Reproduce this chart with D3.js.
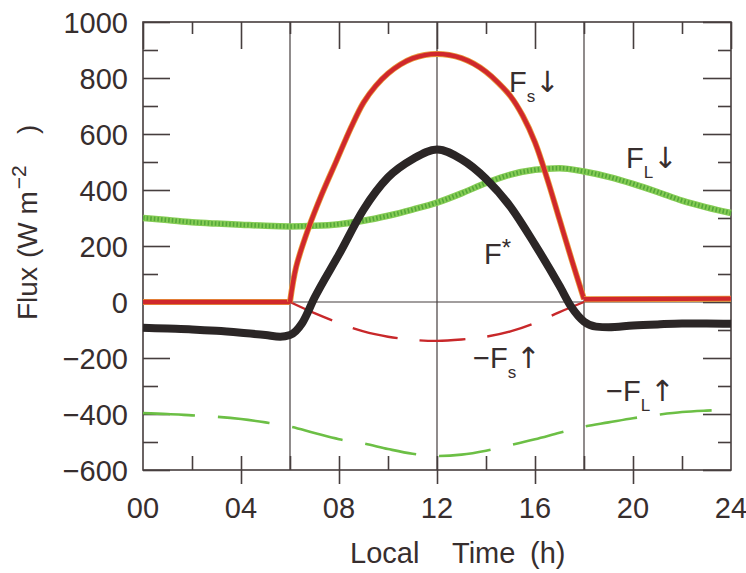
<!DOCTYPE html>
<html>
<head>
<meta charset="utf-8">
<script src="https://cdn.jsdelivr.net/npm/d3@7"></script>
<style>
  body { margin: 0; background: #fff; }
  text { font-family: "Liberation Sans", Arial, Helvetica, sans-serif; fill: #372e2e; }
</style>
</head>
<body>
<svg id="chart" width="746" height="573"></svg>
<script>
// --- data (hour of day, W m-2) ---
var fsDown = [[0, 0], [6, 0], [6.25, 125], [6.75, 262], [7.3, 385], [7.9, 505], [8.5, 625], [9, 712],
  [9.5, 772], [10, 816], [10.5, 848], [11, 870], [11.5, 882], [12, 886], [12.5, 882], [13, 871],
  [13.5, 851], [14, 822], [14.5, 783], [15, 735], [15.5, 665], [16, 570], [16.5, 440], [17, 295],
  [17.5, 150], [18, 10], [24, 12]];
var flDown = [[0, 300], [1, 293], [2, 285], [3, 280], [4, 276], [5, 272], [6, 270], [7, 272], [8, 278],
  [9, 290], [10, 308], [11, 330], [12, 355], [13, 388], [14, 425], [15, 455], [16, 472], [17, 478],
  [18, 466], [19, 447], [20, 422], [21, 393], [22, 362], [23, 338], [24, 318]];
var fNet = [[0, -92], [1, -95], [2, -98], [3, -103], [4, -110], [5, -118], [5.6, -124], [6, -118],
  [6.5, -75], [7, 15], [8, 170], [9, 330], [10, 445], [11, 510], [12, 545], [13, 510], [14, 440],
  [15, 340], [16, 205], [17, 58], [17.5, -20], [18, -70], [18.5, -88], [19, -90], [20, -84],
  [21, -80], [22, -77], [23, -77], [24, -78]];
var fsUp = [[6, 0], [7, -40], [8, -75], [9, -105], [10, -124], [11, -135], [12, -139], [13, -134],
  [14, -124], [15, -105], [16, -75], [17, -36], [18, 0]];
var flUp = [[0, -397], [1, -400], [2, -405], [3, -410], [4, -418], [5, -430], [6, -445], [7, -468],
  [8, -490], [9, -505], [10, -525], [11, -542], [12, -550], [13, -545], [14, -531], [15, -511],
  [16, -490], [17, -467], [18, -445], [19, -430], [20, -415], [21, -403], [22, -393], [23, -388], [24, -385]];

var xMajor = [0, 4, 8, 12, 16, 20, 24];
var xMinor = [2, 6, 10, 14, 18, 22];
var xLabels = ["00", "04", "08", "12", "16", "20", "24"];
var yMajor = [1000, 800, 600, 400, 200, 0, -200, -400, -600];
var yMinor = [900, 700, 500, 300, 100, -100, -300, -500];
var dayLines = [6, 12, 18];

var plotL = 143, plotR = 731, plotT = 22, plotB = 470;
var frameColor = "#463e3e";

var svg = d3.select("#chart");
var x = d3.scaleLinear().domain([0, 24]).range([plotL, plotR]);
var y = d3.scaleLinear().domain([-600, 1000]).range([plotB, plotT]);

// frame
svg.append("rect")
  .attr("x", plotL).attr("y", plotT)
  .attr("width", plotR - plotL).attr("height", plotB - plotT)
  .attr("fill", "none").attr("stroke", frameColor).attr("stroke-width", 1.6);

// zero line and 06/12/18 lines
svg.append("line")
  .attr("x1", plotL).attr("x2", plotR).attr("y1", y(0)).attr("y2", y(0))
  .attr("stroke", frameColor).attr("stroke-width", 1.2);
svg.selectAll("line.day").data(dayLines).enter().append("line")
  .attr("class", "day")
  .attr("x1", x).attr("x2", x).attr("y1", plotT).attr("y2", plotB)
  .attr("stroke", frameColor).attr("stroke-width", 1.2);

function noDomain(g) {
  g.select(".domain").remove();
  g.selectAll(".tick line").attr("stroke", frameColor).attr("stroke-width", 1.6);
}

// left axis: ticks point inward
var leftAxis = svg.append("g").attr("transform", "translate(" + plotL + ",0)")
  .call(d3.axisLeft(y).tickValues(yMajor).tickSize(-27).tickPadding(15)
    .tickFormat(function(d) { return d < 0 ? "\u2212" + (-d) : d; }))
  .call(noDomain);
leftAxis.selectAll("text").style("font-size", "29px").style("font-family", "Liberation Sans")
  .attr("fill", "#372e2e").attr("dy", "0.36em");
svg.append("g").attr("transform", "translate(" + plotL + ",0)")
  .call(d3.axisLeft(y).tickValues(yMinor).tickSize(-15).tickFormat(""))
  .call(noDomain);

// right axis
svg.append("g").attr("transform", "translate(" + plotR + ",0)")
  .call(d3.axisRight(y).tickValues(yMajor).tickSize(-28).tickFormat(""))
  .call(noDomain);
svg.append("g").attr("transform", "translate(" + plotR + ",0)")
  .call(d3.axisRight(y).tickValues(yMinor).tickSize(-13).tickFormat(""))
  .call(noDomain);

// top axis
svg.append("g").attr("transform", "translate(0," + plotT + ")")
  .call(d3.axisTop(x).tickValues(xMajor).tickSize(-27).tickFormat(""))
  .call(noDomain);
svg.append("g").attr("transform", "translate(0," + plotT + ")")
  .call(d3.axisTop(x).tickValues(xMinor).tickSize(-12).tickFormat(""))
  .call(noDomain);

// bottom axis: major ticks cross the frame
svg.append("g").attr("transform", "translate(0," + (plotB + 14) + ")")
  .call(d3.axisBottom(x).tickValues(xMajor.slice(1, -1)).tickSize(-28).tickFormat(""))
  .call(noDomain);
svg.append("g").attr("transform", "translate(0," + plotB + ")")
  .call(d3.axisBottom(x).tickValues(xMinor).tickSize(-14).tickFormat(""))
  .call(noDomain);
svg.selectAll("text.xl").data(xMajor).enter().append("text")
  .attr("class", "xl")
  .attr("x", x).attr("y", 518)
  .attr("text-anchor", "middle")
  .style("font-size", "29px")
  .text(function(d, i) { return xLabels[i]; });

// axis titles (words spread wide, as in the original)
var xt = svg.append("text").attr("y", 563).style("font-size", "29px");
xt.append("tspan").attr("x", 350).text("Local");
xt.append("tspan").attr("x", 452).text("Time");
xt.append("tspan").attr("x", 530).text("(h)");

var yt = svg.append("text")
  .attr("transform", "translate(37,0) rotate(-90)")
  .style("font-size", "28px");
yt.append("tspan").attr("x", -320).text("Flux");
yt.append("tspan").attr("x", -258).text("(W m");
yt.append("tspan").attr("dx", 2).attr("dy", -11).style("font-size", "21px").text("\u22122");
yt.append("tspan").attr("x", -134).attr("dy", 11).text(")");

// curves
var line = d3.line().x(function(d) { return x(d[0]); }).y(function(d) { return y(d[1]); });
var smooth = d3.line().curve(d3.curveMonotoneX)
  .x(function(d) { return x(d[0]); }).y(function(d) { return y(d[1]); });
var round = d3.line().curve(d3.curveCatmullRom.alpha(0.5))
  .x(function(d) { return x(d[0]); }).y(function(d) { return y(d[1]); });

// -FL up (dashed green)
svg.append("path").attr("d", smooth(flUp))
  .attr("fill", "none").attr("stroke", "#6cbf45").attr("stroke-width", 2.6)
  .attr("stroke-dasharray", "52,23");

// -Fs up (dashed red)
svg.append("path").attr("d", round(fsUp))
  .attr("fill", "none").attr("stroke", "#c8282a").attr("stroke-width", 2.4)
  .attr("stroke-dasharray", "46,22");

// FL down (thick dotted green)
svg.append("path").attr("d", smooth(flDown))
  .attr("fill", "none").attr("stroke", "#86cc55").attr("stroke-width", 6.5);
svg.append("path").attr("d", smooth(flDown))
  .attr("fill", "none").attr("stroke", "#55a93a").attr("stroke-width", 4.5)
  .attr("stroke-dasharray", "1.6,2");

// Fs down: straight at night, rounded during the day
var night1 = fsDown.filter(function(d) { return d[0] <= 6; });
var day = fsDown.filter(function(d) { return d[0] >= 6 && d[0] <= 18; });
var night2 = fsDown.filter(function(d) { return d[0] >= 18; });
[[night1, line], [day, round], [night2, line]].forEach(function(p) {
  svg.append("path").attr("d", p[1](p[0]))
    .attr("fill", "none").attr("stroke", "#e89a3a").attr("stroke-width", 6)
    .attr("stroke-linejoin", "round");
  svg.append("path").attr("d", p[1](p[0]))
    .attr("fill", "none").attr("stroke", "#d0282c").attr("stroke-width", 4.4)
    .attr("stroke-linejoin", "round");
});

// F* net (thick black)
svg.append("path").attr("d", smooth(fNet))
  .attr("fill", "none").attr("stroke", "#2b2626").attr("stroke-width", 8);

// curve labels
function label(px, py, parts) {
  var t = svg.append("text").attr("x", px).attr("y", py).style("font-size", "29px");
  parts.forEach(function(p) {
    var s = t.append("tspan").text(p.s);
    if (p.size) s.style("font-size", p.size + "px");
    if (p.dy) s.attr("dy", p.dy);
    if (p.dx) s.attr("dx", p.dx);
    if (p.font) s.style("font-family", p.font);
  });
}
var arrowFont = "DejaVu Sans";
label(509, 92, [{s: "F"}, {s: "s", size: 17, dy: 10}, {s: "\u2193", dy: -10, font: arrowFont}]);
label(626, 168, [{s: "F"}, {s: "L", size: 17, dy: 10}, {s: "\u2193", dy: -10, font: arrowFont}]);
label(484, 264, [{s: "F"}, {s: "*", size: 24, dy: -8}]);
label(473, 368, [{s: "\u2212F"}, {s: "s", size: 17, dy: 10}, {s: "\u2191", dy: -10, font: arrowFont}]);
label(606, 401, [{s: "\u2212F"}, {s: "L", size: 17, dy: 10}, {s: "\u2191", dy: -10, font: arrowFont}]);
</script>
</body>
</html>
